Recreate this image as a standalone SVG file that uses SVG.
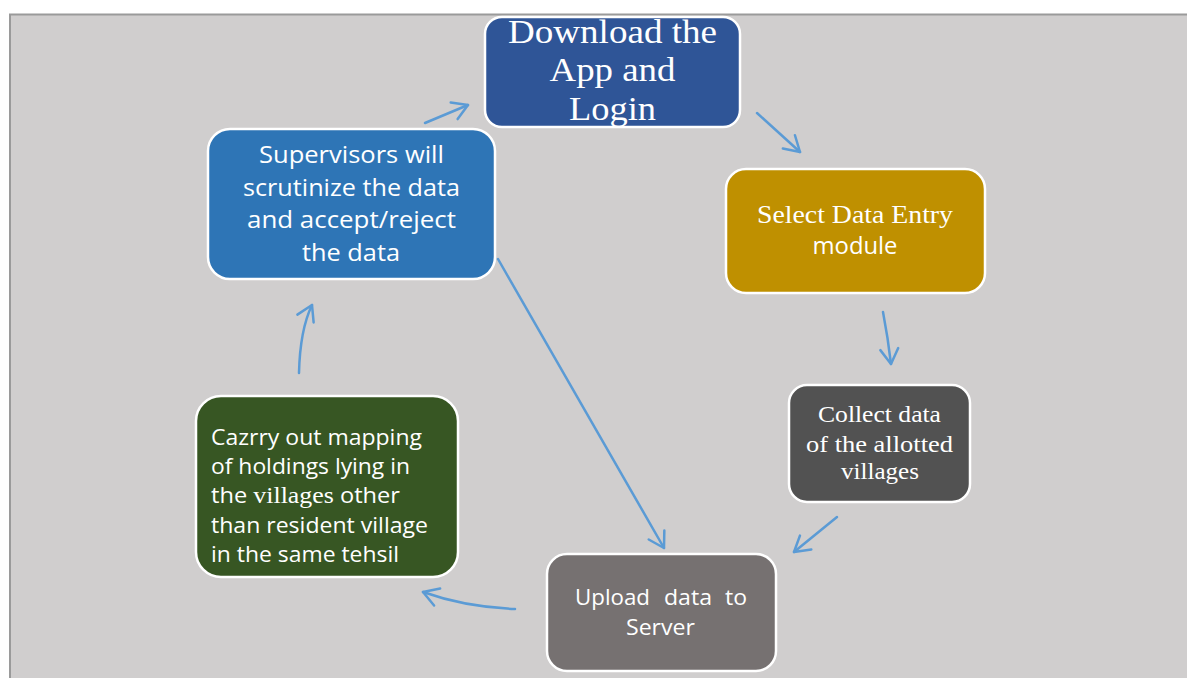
<svg xmlns="http://www.w3.org/2000/svg" width="1187" height="678" viewBox="0 0 1187 678">
  <style>
    .box { stroke: #ffffff; stroke-width: 2.5; }
    .link { fill: none; stroke: #5b9bd5; stroke-width: 2.5; stroke-linecap: round; marker-end: url(#chev); }
    .serif { font-family: "Liberation Serif", "Times New Roman", serif; fill: #ffffff; }
    .sans { font-family: "Open Sans", "Liberation Sans", Arial, sans-serif; fill: #ffffff; }
  </style>
  <defs>
    <marker id="chev" markerUnits="userSpaceOnUse" viewBox="-20 -12 24 24" refX="0" refY="0" markerWidth="24" markerHeight="24" orient="auto">
      <path d="M-15,-9 L0,0 L-15,9" fill="none" stroke="#5b9bd5" stroke-width="2.5" stroke-linecap="round" stroke-linejoin="round"/>
    </marker>
  </defs>

  <!-- page background and frame -->
  <rect x="0" y="0" width="1187" height="678" fill="#ffffff"/>
  <rect x="10" y="14.5" width="1190" height="680" fill="#d0cece" stroke="#9a9a9a" stroke-width="2"/>

  <!-- connectors -->
  <g id="connectors">
    <path class="link" d="M425,123 L468,105"/>
    <path class="link" d="M757,113 L800,152"/>
    <path class="link" d="M883,312 Q888,338 891,364"/>
    <path class="link" d="M837,517 L794,552"/>
    <path class="link" d="M515,609 Q465,607 423,592"/>
    <path class="link" d="M299,373 Q300,330 312,305"/>
    <path class="link" d="M498,259 L664,548"/>
  </g>

  <g id="download">
    <rect class="box" x="485" y="17" width="255" height="110" rx="17" fill="#2f5597"/>
    <g class="serif" font-size="33" text-anchor="middle">
      <text x="612.5" y="43" textLength="209" lengthAdjust="spacingAndGlyphs">Download the</text>
      <text x="612.5" y="81" textLength="126" lengthAdjust="spacingAndGlyphs">App and</text>
      <text x="612.5" y="120" textLength="87" lengthAdjust="spacingAndGlyphs">Login</text>
    </g>
  </g>

  <g id="select">
    <rect class="box" x="726" y="169" width="259" height="124" rx="20" fill="#bf9000"/>
    <text class="serif" x="855" y="223" font-size="26" text-anchor="middle" textLength="196" lengthAdjust="spacingAndGlyphs">Select Data Entry</text>
    <text class="sans" x="855" y="254" font-size="24" text-anchor="middle" textLength="85" lengthAdjust="spacingAndGlyphs">module</text>
  </g>

  <g id="collect">
    <rect class="box" x="789" y="385" width="181" height="117" rx="18" fill="#525252"/>
    <g class="serif" font-size="23" text-anchor="middle">
      <text x="879.5" y="422" textLength="123" lengthAdjust="spacingAndGlyphs">Collect data</text>
      <text x="879.5" y="452" textLength="147" lengthAdjust="spacingAndGlyphs">of the allotted</text>
      <text x="880" y="479" textLength="78" lengthAdjust="spacingAndGlyphs">villages</text>
    </g>
  </g>

  <g id="upload">
    <rect class="box" x="547" y="554" width="229" height="117" rx="20" fill="#767171"/>
    <g class="sans" font-size="22">
      <text y="605"><tspan x="575" textLength="75" lengthAdjust="spacingAndGlyphs">Upload</tspan><tspan x="664" textLength="48" lengthAdjust="spacingAndGlyphs">data</tspan><tspan x="725" textLength="22" lengthAdjust="spacingAndGlyphs">to</tspan></text>
      <text x="660.5" y="635" text-anchor="middle" textLength="69" lengthAdjust="spacingAndGlyphs">Server</text>
    </g>
  </g>

  <g id="mapping">
    <rect class="box" x="196" y="396" width="262" height="181" rx="25" fill="#375623"/>
    <g class="sans" font-size="21">
      <text x="211" y="445" textLength="211" lengthAdjust="spacingAndGlyphs">Cazrry out mapping</text>
      <text x="211" y="474" textLength="199" lengthAdjust="spacingAndGlyphs">of holdings lying in</text>
      <text x="211" y="503" textLength="189" lengthAdjust="spacingAndGlyphs">the <tspan font-family="Liberation Serif, serif" font-size="23">villages</tspan> other</text>
      <text x="211" y="533" textLength="217" lengthAdjust="spacingAndGlyphs">than resident village</text>
      <text x="211" y="562" textLength="188" lengthAdjust="spacingAndGlyphs">in the same tehsil</text>
    </g>
  </g>

  <g id="supervisors">
    <rect class="box" x="208" y="129" width="287" height="150" rx="22" fill="#2e75b6"/>
    <g class="sans" font-size="24" text-anchor="middle">
      <text x="351.5" y="163" textLength="185" lengthAdjust="spacingAndGlyphs">Supervisors will</text>
      <text x="351.5" y="196" textLength="217" lengthAdjust="spacingAndGlyphs">scrutinize the data</text>
      <text x="351.5" y="228" textLength="209" lengthAdjust="spacingAndGlyphs">and accept/reject</text>
      <text x="351" y="261" textLength="98" lengthAdjust="spacingAndGlyphs">the data</text>
    </g>
  </g>
</svg>
